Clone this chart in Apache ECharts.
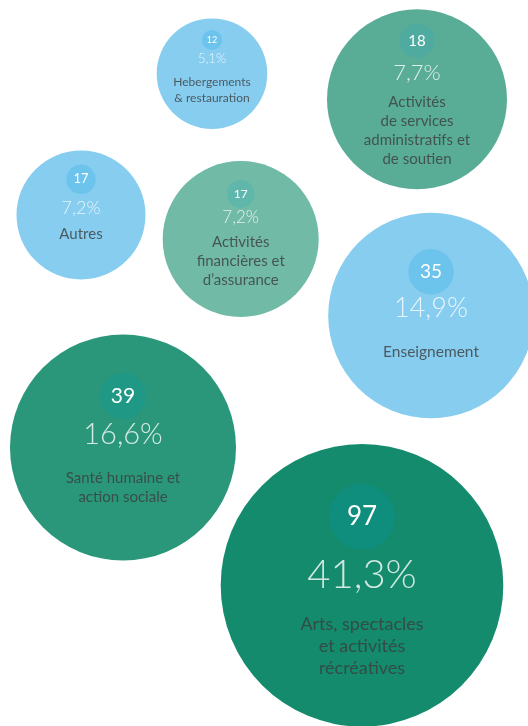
<!DOCTYPE html>
<html>
<head>
<meta charset="utf-8">
<script src="https://cdn.jsdelivr.net/npm/echarts@6/dist/echarts.min.js"></script>
<style>html,body{margin:0;padding:0;background:#fff}#c{width:528px;height:726px}</style>
</head>
<body>
<div id="c"></div>
<script>
// ---- data ----
var names = ['Hebergements\n& restauration', 'Activités\nde services\nadministratifs et\nde soutien', 'Autres', 'Activités\nfinancières et\nd\u2019assurance', 'Enseignement', 'Santé humaine et\naction sociale', 'Arts, spectacles\net activités\nrécréatives'];
var counts = [12, 18, 17, 17, 35, 39, 97];
var percents = ['5,1%', '7,7%', '7,2%', '7,2%', '14,9%', '16,6%', '41,3%'];

// ---- layout (bubble placement in a 528 x 726 plane) ----
var posX = [212, 417, 81, 240.7, 431, 123, 362];
var posY = [73.7, 99.3, 215, 239, 315.5, 447.5, 585.3];
var radius = [55.3, 90, 64.5, 78, 102.8, 113, 141.3];
var innerDy = [-33.7, -58.6, -35.7, -45, -43.8, -51.5, -68.6];
var innerR = [10, 17.3, 14.7, 13.7, 22.7, 23.3, 33];
var pctDy = [-14.7, -26.3, -7, -21.3, -7.2, -12.5, -10.3];
var nameDy = [16.3, 31.7, 19, 22, 36.2, 40, 60.7];
var numSize = [9, 15, 13, 12, 19, 21, 26];
var pctSize = [13, 22, 18, 17, 27, 29, 40];
var nameSize = [12, 15, 15, 15, 15.5, 15, 18];
var nameLH = [16, 19, 18, 19, 18, 18.5, 21.7];
var mainColors = ['#86cdf0', '#59ad97', '#86cdf0', '#70baa6', '#86cdf0', '#2a977a', '#138b6c'];
var innerColors = ['#6cc3ec', '#4fab9f', '#6cc3ec', '#5fb6ab', '#6cc3ec', '#1f9886', '#0f8d7d'];

var FONT = 'Lato, "Noto Sans", sans-serif';

var bubbles = [], inners = [], pcts = [], labels = [];
for (var i = 0; i < counts.length; i++) {
  bubbles.push({ value: [posX[i], posY[i]], symbolSize: radius[i] * 2, itemStyle: { color: mainColors[i] } });
  inners.push({
    value: [posX[i], posY[i] + innerDy[i]], symbolSize: innerR[i] * 2,
    itemStyle: { color: innerColors[i] },
    label: { show: true, position: 'inside', formatter: String(counts[i]), color: '#fff', fontSize: numSize[i], fontFamily: FONT }
  });
  pcts.push({
    value: [posX[i], posY[i] + pctDy[i]], symbolSize: 1,
    label: { show: true, position: 'inside', formatter: percents[i], color: '#fff', fontSize: pctSize[i], fontWeight: 300, fontFamily: FONT }
  });
  labels.push({
    value: [posX[i], posY[i] + nameDy[i]], symbolSize: 1,
    label: { show: true, position: 'inside', formatter: names[i], color: '#3c3c3c', fontSize: nameSize[i], lineHeight: nameLH[i], align: 'center', fontFamily: FONT }
  });
}

var chart = echarts.init(document.getElementById('c'), null, { renderer: 'canvas' });
chart.setOption({
  animation: false,
  backgroundColor: '#ffffff',
  grid: { left: 0, right: 0, top: 0, bottom: 0 },
  xAxis: { type: 'value', min: 0, max: 528, show: false },
  yAxis: { type: 'value', min: 0, max: 726, inverse: true, show: false },
  series: [
    { type: 'scatter', silent: true, data: bubbles, itemStyle: { opacity: 1 }, z: 1 },
    { type: 'scatter', silent: true, data: inners, itemStyle: { opacity: 1 }, z: 2 },
    { type: 'scatter', silent: true, data: pcts, itemStyle: { color: 'rgba(0,0,0,0)' }, z: 3 },
    { type: 'scatter', silent: true, data: labels, itemStyle: { color: 'rgba(0,0,0,0)' }, z: 3 }
  ]
});
</script>
</body>
</html>
